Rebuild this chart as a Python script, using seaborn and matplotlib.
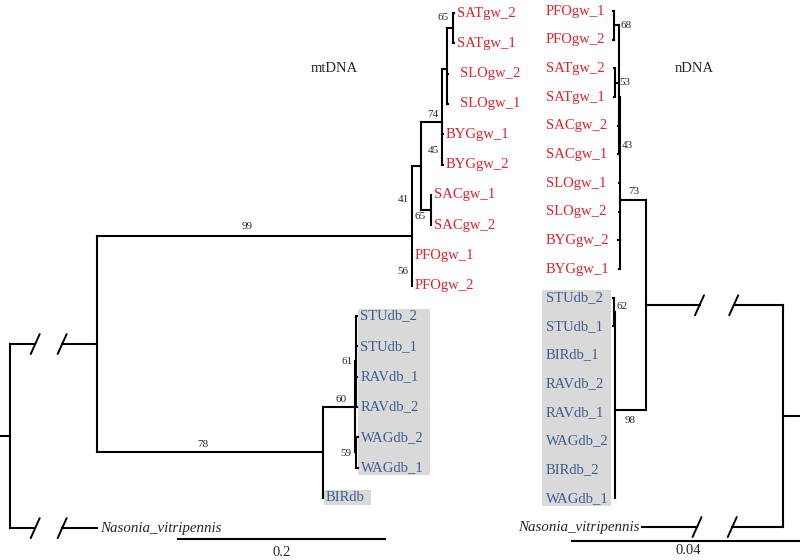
import numpy as np
import pandas as pd
import matplotlib
matplotlib.use('Agg')
import matplotlib.pyplot as plt
from matplotlib.patches import Rectangle
from matplotlib.transforms import Bbox
import seaborn as sns

# ---------------------------------------------------------------
# arbol mtDNA (izquierda): padre -> hijo, longitud de rama
# ---------------------------------------------------------------
mt_parent = ['root', 'root', 'A', 'A', 'G41', 'G41', 'G41', 'B', 'B',
             'C', 'C', 'C', 'D', 'D', 'D', 'SAT', 'SAT', 'SAC', 'SAC',
             'N78', 'N78', 'N60', 'N60', 'N61', 'N61', 'N61', 'N61', 'N59', 'N59']
mt_child = ['A', 'Nasonia_vitripennis', 'G41', 'N78', 'B', 'PFOgw_1', 'PFOgw_2', 'C', 'SAC',
            'D', 'BYGgw_1', 'BYGgw_2', 'SAT', 'SLOgw_2', 'SLOgw_1', 'SATgw_2', 'SATgw_1', 'SACgw_1', 'SACgw_2',
            'N60', 'BIRdb', 'N61', 'N59', 'STUdb_2', 'STUdb_1', 'RAVdb_1', 'RAVdb_2', 'WAGdb_2', 'WAGdb_1']
mt_length = [0.084, 0.084, 0.304, 0.218, 0.0087, 0.0005, 0.0005, 0.021, 0.0097,
             0.0048, 0.0005, 0.0005, 0.0058, 0.0005, 0.0005, 0.0005, 0.0005, 0.0005, 0.0005,
             0.031, 0.0005, 0.001, 0.001, 0.0015, 0.0015, 0.0015, 0.0015, 0.002, 0.002]
mt_broken = ['A', 'Nasonia_vitripennis']   # ramas cortadas con //
mt_boot = [65, 74, 45, 65, 41, 56, 99, 78, 60, 61, 59]
mt_boot_at = ['SAT', 'C', 'BYGgw_2', 'SAC', 'G41', 'PFOgw_2', 'G41', 'N78', 'N60', 'N61', 'N59']
mt_db_boxes = [['STUdb_2', 'STUdb_1', 'RAVdb_1', 'RAVdb_2', 'WAGdb_2', 'WAGdb_1'], ['BIRdb']]
mt_scale = 0.2

# ---------------------------------------------------------------
# arbol nDNA (derecha, espejado)
# ---------------------------------------------------------------
nd_parent = ['root', 'root', 'I', 'I', 'N73', 'N73', 'N73', 'N73', 'N73',
             'X', 'X', 'X', 'X', 'N68', 'N68', 'N53', 'N53',
             'N98', 'N98', 'N98', 'N98', 'N98', 'N98', 'N98', 'N62', 'N62']
nd_child = ['I', 'Nasonia_vitripennis', 'N73', 'N98', 'X', 'SLOgw_1', 'SLOgw_2', 'BYGgw_2', 'BYGgw_1',
            'N68', 'N53', 'SACgw_2', 'SACgw_1', 'PFOgw_1', 'PFOgw_2', 'SATgw_2', 'SATgw_1',
            'N62', 'BIRdb_1', 'RAVdb_2', 'RAVdb_1', 'WAGdb_2', 'BIRdb_2', 'WAGdb_1', 'STUdb_2', 'STUdb_1']
nd_length = [0.0236, 0.0243, 0.0045, 0.0053, 0.0002, 0.0001, 0.0001, 0.0004, 0.0001,
             0.0009, 0.0007, 0.0001, 0.0001, 0.0001, 0.0001, 0.0001, 0.0001,
             0.0003, 0.0001, 0.0001, 0.0001, 0.0001, 0.0001, 0.0001, 0.0001, 0.0001]
nd_broken = ['I', 'Nasonia_vitripennis']
nd_boot = [68, 53, 43, 73, 98, 62]
nd_boot_at = ['N68', 'N53', 'SACgw_1', 'N73', 'N98', 'N62']
nd_db_boxes = [['STUdb_2', 'STUdb_1', 'BIRdb_1', 'RAVdb_2', 'RAVdb_1', 'WAGdb_2', 'BIRdb_2', 'WAGdb_1']]
nd_scale = 0.04

# estilo / posiciones de las etiquetas (pixeles de imagen: dx a la derecha, dy hacia abajo)
mt_boot_pos = [('node', -5, -11, 'right'), ('node', -4, -8, 'right'), ('node', -4, -14, 'right'),
               ('node', -5, 7, 'right'), ('node', -3, -36, 'right'), ('node', -4, -14, 'right'),
               ('stem', -7, -9, 'center'), ('stem', -7, -8, 'center'), ('node', -8, -7, 'right'),
               ('node', -3, 0, 'right'), ('node', -4, 1, 'right')]
nd_boot_pos = [('node', 7, 0, 'left'), ('node', 5, 0, 'left'), ('node', 3, -9, 'left'),
               ('stem', 1, -9, 'center'), ('stem', -1, 10, 'center'), ('node', 3, -6, 'left')]
mt_tip_dx = {'SLOgw_2': 9, 'SLOgw_1': 9}   # separacion extra de algunas etiquetas

ROJO = '#e0222a'
AZUL = '#3c5d8f'
GRIS = '#d9d9d9'
W, H = 800, 560

sns.set_theme(style='white')
plt.rcParams['font.family'] = ['Liberation Serif', 'DejaVu Serif']

fig = plt.figure(figsize=(8, 5.6), dpi=100)
ax_l = fig.add_axes([0, 0, 1, 1])
ax_r = fig.add_axes([0, 0, 1, 1])

# escalas: px por unidad, posicion de la raiz, primera punta y separacion
lim_l = dict(x=(-10 / 1035, (W - 10) / 1035), y=((H - 13) / 30.3, -13 / 30.3))
lim_r = dict(x=(783 / 5800, -(W - 783) / 5800), y=((H - 11) / 28.67, -11 / 28.67))


def set_lims(ax, lim):
    ax.set_xlim(*lim['x'])
    ax.set_ylim(*lim['y'])


set_lims(ax_l, lim_l)
set_lims(ax_r, lim_r)


def img_off(ax, x, y, dxi, dyi):
    # desplazar un punto (datos) unos pixeles de imagen
    o = ax.transData.transform((0, 0))
    sx = ax.transData.transform((1, 0))[0] - o[0]
    sy = ax.transData.transform((0, 1))[1] - o[1]
    return (x + dxi / sx, y - dyi / sy)


def img2data(ax, xi, yi):
    return tuple(ax.transData.inverted().transform((xi, H - yi)))


def layout(parent, child, length):
    kids = {}
    for p, c in zip(parent, child):
        kids.setdefault(p, []).append(c)
    blen = dict(zip(child, length))
    par = dict(zip(child, parent))
    xs, ys, tips = {'root': 0.0}, {}, []

    def walk(n):
        if n not in kids:
            ys[n] = len(tips)
            tips.append(n)
            return
        for c in kids[n]:
            xs[c] = xs[n] + blen[c]
            walk(c)
        ys[n] = np.mean([ys[c] for c in kids[n]])
    walk('root')
    return xs, ys, kids, par, tips


def segmentos(ax, xs, ys, kids, par, broken, cuts, stub_px):
    rows = []
    cnt = [0]

    def seg(pts, kind):
        for px, py in pts:
            rows.append((cnt[0], kind, px, py))
        cnt[0] += 1

    for c, p in par.items():
        x0, x1, y = xs[p], xs[c], ys[c]
        if c in broken:
            a = x0 + cuts[0] * (x1 - x0)
            b = x0 + cuts[1] * (x1 - x0)
            seg([(x0, y), (a, y)], 'rama')
            seg([(b, y), (x1, y)], 'rama')
            for cx in (a, b):
                seg([img_off(ax, cx, y, -4.5, 10), img_off(ax, cx, y, 4.5, -10)], 'corte')
        else:
            seg([(x0, y), (x1, y)], 'rama')
    for n, cs in kids.items():
        yy = [ys[c] for c in cs]
        seg([(xs[n], min(yy)), (xs[n], max(yy))], 'rama')
    yr = ys['root']
    seg([(0, yr), img_off(ax, 0, yr, stub_px, 0)], 'rama')
    return pd.DataFrame(rows, columns=['seg', 'kind', 'x', 'y'])


def color_tip(n):
    if 'gw' in n:
        return ROJO
    if 'db' in n:
        return AZUL
    return 'black'


def dibujar(ax, lim, parent, child, length, broken, cuts, stub_px, boot, boot_at, boot_pos,
            scale, bar_img, bar_dir, bar_dy, mirrored, tip_dx=None):
    tip_dx = tip_dx or {}
    xs, ys, kids, par, tips = layout(parent, child, length)
    df = segmentos(ax, xs, ys, kids, par, broken, cuts, stub_px)

    # barra de escala
    bx, by = img2data(ax, *bar_img)
    bar = pd.DataFrame({'seg': [-1, -1], 'kind': 'escala', 'x': [bx, bx + bar_dir * scale], 'y': [by, by]})
    df = pd.concat([df, bar], ignore_index=True)

    sns.lineplot(data=df[df.kind != 'corte'], x='x', y='y', units='seg', estimator=None, sort=False,
                 color='black', lw=1.5, solid_capstyle='projecting', legend=False, ax=ax)
    sns.lineplot(data=df[df.kind == 'corte'], x='x', y='y', units='seg', estimator=None, sort=False,
                 color='black', lw=1.4, legend=False, ax=ax)
    set_lims(ax, lim)
    ax.axis('off')
    ax.set_facecolor('none')

    def put(s, x, y, dx, dy, ha, **kw):
        return ax.annotate(s, xy=(x, y), xytext=(dx, -dy), textcoords='offset pixels',
                           ha=ha, va='center', annotation_clip=False, **kw)

    # etiquetas de puntas
    textos = {}
    deep = max(xs[t] for t in tips if t != 'Nasonia_vitripennis')
    for t in tips:
        if t == 'Nasonia_vitripennis':
            if mirrored:
                textos[t] = put(t, xs[t], ys[t], -2, 0, 'right', fontsize=10.8, style='italic')
            else:
                textos[t] = put(t, xs[t], ys[t], 3, 0, 'left', fontsize=10.8, style='italic')
        elif mirrored:
            textos[t] = put(t, deep, ys[t], -67, 0, 'left', fontsize=10.5, color=color_tip(t))
        else:
            textos[t] = put(t, xs[t], ys[t], 3 + tip_dx.get(t, 0), 0, 'left', fontsize=10.5,
                            color=color_tip(t))

    # valores bootstrap
    for v, n, (anchor, dx, dy, ha) in zip(boot, boot_at, boot_pos):
        x = xs[n] if anchor == 'node' else (xs[n] + xs[par[n]]) / 2
        put(str(v), x, ys[n], dx, dy, ha, fontsize=8)

    # etiqueta de la escala
    put(f'{scale:g}', bx + bar_dir * scale / 2, by, 0, bar_dy, 'center', fontsize=10.5)
    return textos


txt_l = dibujar(ax_l, lim_l, mt_parent, mt_child, mt_length, mt_broken, (0.29, 0.60), -10,
                mt_boot, mt_boot_at, mt_boot_pos, mt_scale, (178, 539), 1, 13, False, mt_tip_dx)
txt_r = dibujar(ax_r, lim_r, nd_parent, nd_child, nd_length, nd_broken, (0.36, 0.61), 17,
                nd_boot, nd_boot_at, nd_boot_pos, nd_scale, (572, 541), -1, 9, True)

fig.text(334 / W, 1 - 69 / H, 'mtDNA', ha='center', va='center', fontsize=10.5)
fig.text(694 / W, 1 - 69 / H, 'nDNA', ha='center', va='center', fontsize=10.5)

# cajas grises detras de los grupos db
fig.canvas.draw()
rend = fig.canvas.get_renderer()
for textos, grupos, pads in [(txt_l, mt_db_boxes, (2, 6)), (txt_r, nd_db_boxes, (4, 2))]:
    for g in grupos:
        bb = Bbox.union([textos[n].get_window_extent(rend) for n in g])
        (x0, y0), (x1, y1) = fig.transFigure.inverted().transform(
            [(bb.x0 - pads[0], bb.y0 - 1), (bb.x1 + pads[1], bb.y1 + 1)])
        fig.add_artist(Rectangle((x0, y0), x1 - x0, y1 - y0, transform=fig.transFigure,
                                 facecolor=GRIS, edgecolor='none', zorder=-5))

fig.savefig('out.png', dpi=100, facecolor='white')
